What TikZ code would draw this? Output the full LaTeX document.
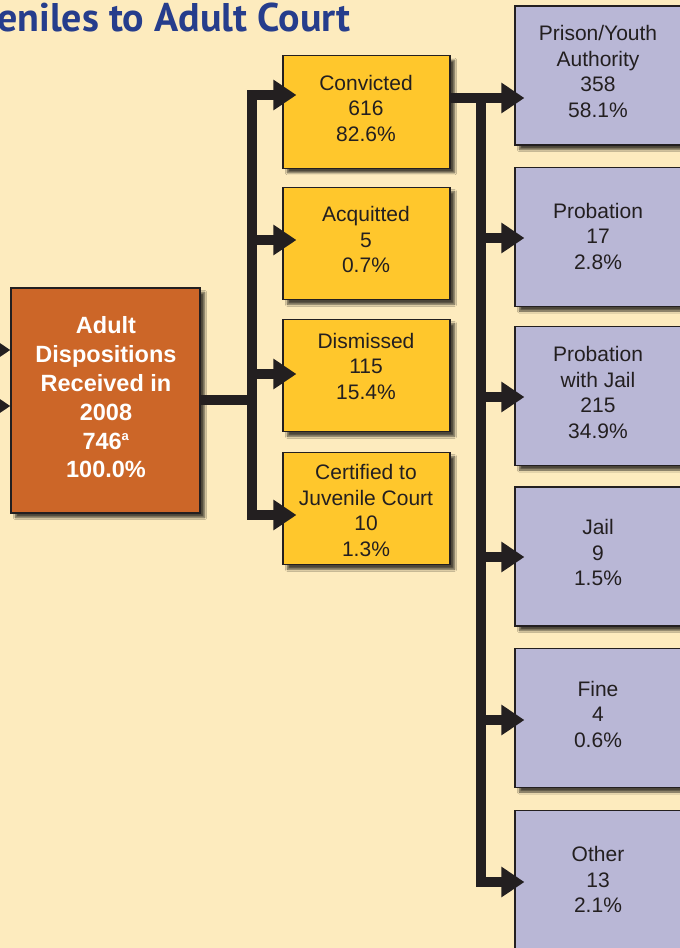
\documentclass[tikz,border=0pt]{standalone}
\usepackage{fontspec}
\setmainfont{Liberation Sans}
\newfontfamily\titlefont{PT Sans}
\usetikzlibrary{arrows.meta,calc,shadows.blur}
\definecolor{bg}{RGB}{253,235,190}
\definecolor{orng}{RGB}{204,102,40}
\definecolor{yel}{RGB}{255,199,44}
\definecolor{purp}{RGB}{185,183,214}
\definecolor{ink}{RGB}{35,31,32}
\definecolor{ttl}{RGB}{38,61,140}
\tikzset{
  box/.style={draw=ink, line width=1.1pt, inner sep=0pt,
    blur shadow={shadow xshift=4.5pt, shadow yshift=-4.5pt, shadow blur steps=6, shadow opacity=70}},
  obox/.style={box, fill=orng, minimum width=189pt, minimum height=225pt},
  ybox/.style={box, fill=yel, minimum width=167pt, minimum height=112.5pt},
  pbox/.style={box, fill=purp, minimum width=168pt, minimum height=139pt},
  txt/.style={align=center, text=ink, font=\fontsize{21}{25.5}\selectfont, inner sep=0pt},
  otxt/.style={align=center, text=white, font=\fontsize{23.5}{28.8}\selectfont\bfseries, inner sep=0pt},
  conn/.style={draw=ink, line width=10.5pt, line cap=butt, line join=miter},
  tri/.tip={Triangle[width=29pt,length=23pt]},
}
\begin{document}
\begin{tikzpicture}[x=1pt,y=-1pt]
\useasboundingbox (0,0) rectangle (680,948);
\clip (0,0) rectangle (680,948);
\fill[bg] (0,0) rectangle (680,948);

% title
\node[anchor=base west, inner sep=0pt, text=ttl, font=\titlefont\fontsize{40}{42}\selectfont\bfseries] (title) at (-3,31) {eniles to Adult Court};

% boxes
\node[obox] (adult) at (105.5,400.5) {};
\node[ybox] (conv) at (366.5,112) {};
\node[ybox] (acq) at (366.5,243.5) {};
\node[ybox] (dism) at (366.5,375.5) {};
\node[ybox] (cert) at (366.5,508.5) {};
\node[pbox] (pris) at (599,75.5) {};
\node[pbox] (prob) at (599,237) {};
\node[pbox] (pjail) at (599,396) {};
\node[pbox] (jail) at (599,556.5) {};
\node[pbox] (fine) at (599,718) {};
\node[pbox] (other) at (599,880) {};

% texts
\node[otxt] (tadult) at (106,397.5) {Adult\\Dispositions\\Received in\\2008\\746\textsuperscript{\fontsize{13}{13}\selectfont a}\\100.0\%};
\node[txt] (tconv) at (366,108) {Convicted\\616\\82.6\%};
\node[txt] (tacq) at (366,239.5) {Acquitted\\5\\0.7\%};
\node[txt] (tdism) at (366,366) {Dismissed\\115\\15.4\%};
\node[txt] (tcert) at (366,510.5) {Certified to\\Juvenile Court\\10\\1.3\%};
\node[txt] (tpris) at (598,71.5) {Prison/Youth\\Authority\\358\\58.1\%};
\node[txt] (tprob) at (598,236) {Probation\\17\\2.8\%};
\node[txt] (tpjail) at (598,392.5) {Probation\\with Jail\\215\\34.9\%};
\node[txt] (tjail) at (598,552.5) {Jail\\9\\1.5\%};
\node[txt] (tfine) at (598,714) {Fine\\4\\0.6\%};
\node[txt] (tother) at (598,879.5) {Other\\13\\2.1\%};

% incoming arrows at left edge
\coordinate (inA) at (-30,350);
\coordinate (inB) at (-30,406);
\draw[conn,-{tri}] (inA) -- (adult.west |- inA);
\draw[conn,-{tri}] (inB) -- (adult.west |- inB);

% first split
\coordinate (j0) at (252,400);
\coordinate (bT) at (252,95);
\coordinate (bA) at (252,240);
\coordinate (bD) at (252,374);
\coordinate (bB) at (252,515);
\draw[conn] (adult.east |- j0) -- (j0);
\draw[conn,{tri}-{tri}] ($(cert.west |- bB)+(14,0)$) -- (bB) -- (bT) -- ($(conv.west |- bT)+(14,0)$);
\draw[conn,-{tri}] (bA) -- ($(acq.west |- bA)+(14,0)$);
\draw[conn,-{tri}] (bD) -- ($(dism.west |- bD)+(14,0)$);

% second split
\coordinate (pT) at (481,98);
\coordinate (p2) at (481,238);
\coordinate (p3) at (481,397);
\coordinate (p4) at (481,557);
\coordinate (p5) at (481,720);
\coordinate (pB) at (481,882);
\draw[conn,-{tri}] (conv.east |- pT) -- ($(pris.west |- pT)+(10,0)$);
\draw[conn,-{tri}] (pT) -- (pB) -- ($(other.west |- pB)+(10,0)$);
\draw[conn,-{tri}] (p2) -- ($(prob.west |- p2)+(10,0)$);
\draw[conn,-{tri}] (p3) -- ($(pjail.west |- p3)+(10,0)$);
\draw[conn,-{tri}] (p4) -- ($(jail.west |- p4)+(10,0)$);
\draw[conn,-{tri}] (p5) -- ($(fine.west |- p5)+(10,0)$);
\end{tikzpicture}
\end{document}
